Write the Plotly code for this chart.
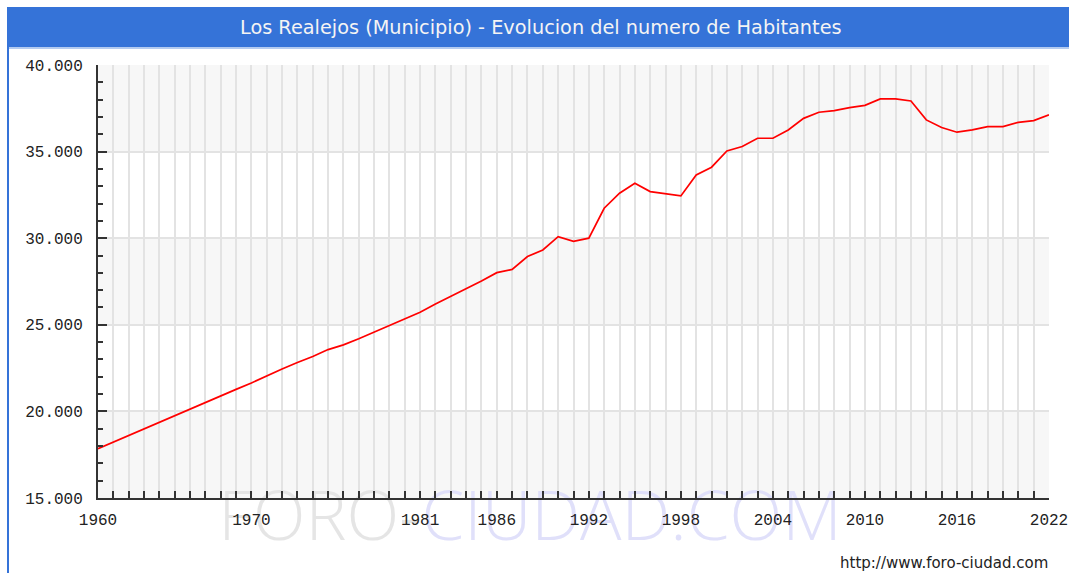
import plotly.graph_objects as go

years = list(range(1960, 2023))
population = [
    17850, 18230, 18620, 19000, 19380, 19760, 20150, 20550, 20900, 21270,
    21640, 22050, 22450, 22820, 23170, 23570, 23840, 24190, 24570, 24990,
    25340, 25730, 26200, 26630, 27070, 27530, 28010, 28200, 28940, 29320,
    30090, 29820, 30000, 31730, 32600, 33170, 32690, 32560, 32440, 33650,
    34100, 35040, 35290, 35770, 35770, 36250, 36920, 37270, 37370, 37540,
    37670, 38040, 38040, 37920, 36830, 36390, 36120, 36250, 36440, 36440,
    36690, 36790, 37120,
]
labeled_years = [1960, 1970, 1981, 1986, 1992, 1998, 2004, 2010, 2016, 2022]
y_ticks = [15000, 20000, 25000, 30000, 35000, 40000]
y_ticktext = ["15.000", "20.000", "25.000", "30.000", "35.000", "40.000"]
title_text = "Los Realejos (Municipio) - Evolucion del numero de Habitantes"
footer_text = "http://www.foro-ciudad.com"

W, H = 1069, 573
L, R, T, B = 98, 1049, 65, 498


def px(x):
    return (x - L) / (R - L)


def py(y):
    return (B - y) / (B - T)


fig = go.Figure()
fig.add_trace(go.Scatter(
    x=years, y=population, mode="lines",
    line=dict(color="#ff0000", width=1.7),
    hoverinfo="x+y", showlegend=False,
))

shapes = []
# alternating horizontal bands
for lo in (15000, 25000, 35000):
    shapes.append(dict(type="rect", xref="paper", yref="y", x0=0, x1=1,
                       y0=lo, y1=lo + 5000, fillcolor="#f7f7f7",
                       line=dict(width=0), layer="below"))
# title bar
shapes.append(dict(type="rect", xref="paper", yref="paper",
                   x0=px(7), x1=px(1069), y0=py(47), y1=py(7),
                   fillcolor="#3573d8", line=dict(width=0), layer="above"))
shapes.append(dict(type="line", xref="paper", yref="paper",
                   x0=px(7), x1=px(1069), y0=py(48), y1=py(48),
                   line=dict(color="#b4cbf0", width=2), layer="above"))
# left frame border
shapes.append(dict(type="line", xref="paper", yref="paper",
                   x0=px(8), x1=px(8), y0=py(47), y1=py(573),
                   line=dict(color="#3573d8", width=2), layer="above"))
# watermark (below axis labels)
shapes.append(dict(type="rect", xref="paper", yref="paper",
                   x0=px(200), x1=px(860), y0=py(549), y1=py(487),
                   fillcolor="rgba(0,0,0,0)", line=dict(width=0), layer="below",
                   label=dict(text="<span style='fill:#e5e5e5'>FORO-</span>"
                                   "<span style='fill:#e0e0fa'>CIUDAD.COM</span>",
                              font=dict(family="Open Sans", size=69, color="#e5e5e5",
                                        weight=300),
                              textposition="middle center")))

annotations = [
    dict(text=title_text, xref="paper", yref="paper", x=px(541), y=py(28),
         xanchor="center", yanchor="middle", showarrow=False,
         font=dict(family="DejaVu Sans", size=19.3, color="#f4f4f4")),
    dict(text=footer_text, xref="paper", yref="paper", x=px(1050), y=py(563),
         xanchor="right", yanchor="middle", showarrow=False,
         font=dict(family="DejaVu Sans", size=15, color="#222222")),
]

tick_font = dict(family="Liberation Mono", size=16, color="#222222")

fig.update_layout(
    width=W, height=H,
    margin=dict(l=L, r=W - R, t=T, b=H - B, pad=0, autoexpand=False),
    paper_bgcolor="white", plot_bgcolor="white",
    shapes=shapes, annotations=annotations,
    showlegend=False,
    xaxis=dict(
        range=[1960, 2022], tickmode="array", tickvals=years,
        ticktext=[str(y) if y in labeled_years else "" for y in years],
        ticks="inside", ticklen=7, tickwidth=1.5, tickcolor="#333333",
        showgrid=True, gridcolor="#e3e3e3", gridwidth=2,
        showline=True, linecolor="#333333", linewidth=2,
        zeroline=False, tickfont=tick_font, ticklabelstandoff=6,
        tickangle=0, automargin=False,
    ),
    yaxis=dict(
        range=[15000, 40000], tickmode="array", tickvals=y_ticks,
        ticktext=y_ticktext,
        ticks="inside", ticklen=9, tickwidth=1.5, tickcolor="#333333",
        showgrid=True, gridcolor="#e3e3e3", gridwidth=2,
        showline=True, linecolor="#333333", linewidth=2,
        zeroline=False, tickfont=tick_font, ticklabelstandoff=10,
        automargin=False,
        minor=dict(tickmode="array", tickvals=list(range(15000, 40001, 1000)),
                   ticks="inside", ticklen=5, tickwidth=1.5,
                   tickcolor="#333333", showgrid=False),
    ),
)

fig.write_html(
    "out.html",
    config={"displayModeBar": False},
    post_script="document.body.style.margin='0';"
                "document.body.style.overflow='hidden';"
                "document.documentElement.style.overflow='hidden';",
)
